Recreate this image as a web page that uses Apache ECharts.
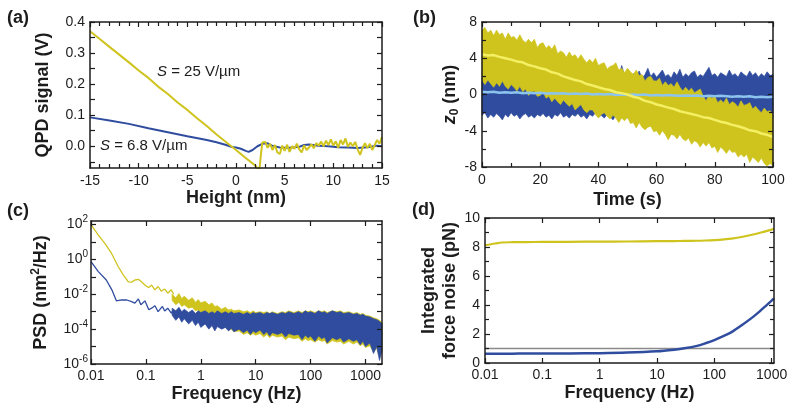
<!DOCTYPE html>
<html>
<head>
<meta charset="utf-8">
<script src="https://cdn.jsdelivr.net/npm/echarts@6/dist/echarts.min.js"></script>
<style>
html, body { margin: 0; padding: 0; background: #fff; }
#chart { width: 800px; height: 415px; }
</style>
</head>
<body>
<div id="chart"></div>
<script>
var FONT = '"Liberation Sans", Arial, Helvetica, sans-serif';
var INK = '#1c1c1c';
var YELLOW = '#cfc41e';
var BLUE = '#2f4c9f';
var YELLOW_LIGHT = '#f4ef63';
var BLUE_LIGHT = '#8cc4ee';

// (a) QPD signal vs height
var heightYellow = [-15, -14, -13, -12, -11, -10, -9, -8, -7, -6, -5, -4, -3, -2, -1, 0, 1, 2, 2.4, 2.55, 2.7,
	3, 3.25, 3.5, 3.75, 4, 4.25, 4.5, 4.75, 5, 5.25, 5.5, 5.75, 6, 6.25, 6.5, 6.75, 7, 7.25, 7.5, 7.75,
	8, 8.25, 8.5, 8.75, 9, 9.25, 9.5, 9.75, 10, 10.25, 10.5, 10.75, 11, 11.25, 11.5, 11.75,
	12, 12.25, 12.5, 12.75, 13, 13.25, 13.5, 13.75, 14, 14.25, 14.5, 14.75, 15];
var qpdYellow = [0.37, 0.345, 0.32, 0.295, 0.27, 0.244, 0.22, 0.192, 0.168, 0.141, 0.117, 0.09, 0.065, 0.038, 0.013, -0.012, -0.038, -0.063, -0.078, -0.03, 0.012,
	0.014, -0.005, 0.008, -0.012, 0.004, -0.02, -0.025, 0.002, -0.015, 0.005, -0.018, 0.0, -0.008, 0.008, -0.01, -0.02, 0.003, -0.012, -0.004, 0.006,
	-0.006, 0.01, 0.002, 0.015, 0.0, 0.018, 0.004, 0.022, 0.002, 0.016, -0.005, 0.02, 0.006, 0.025, -0.002, 0.012,
	0.0, 0.014, -0.01, -0.028, -0.005, 0.01, -0.006, 0.008, -0.012, 0.004, 0.02, 0.008, 0.03];
var heightBlue = [-15, -13, -11, -9, -7, -5, -3, -2, -1, -0.5, 0, 0.5, 1, 1.3, 1.7, 2.2, 2.7, 3.2, 3.7, 4.5, 5.5, 6.5, 7, 7.5, 8.5, 9.5, 10.5, 11.5, 12.5, 13.5, 14.5, 15];
var qpdBlue = [0.093, 0.083, 0.072, 0.058, 0.045, 0.032, 0.02, 0.013, 0.004, -0.002, -0.004, -0.008, -0.015, -0.018, -0.012, 0.0, 0.008, 0.01, 0.002, -0.004, -0.005, -0.002, 0.004, 0.006, 0.002, 0.0, -0.003, -0.004, -0.006, -0.003, 0.002, 0.0];
var qpdTicks = [-0.05, 0, 0.05, 0.1, 0.15, 0.2, 0.25, 0.3, 0.35, 0.4];
var qpdLabels = [0, 0.1, 0.2, 0.3, 0.4];

// (b) z0 traces, drawn as noise bands plus running means
var timeB = [0, 1, 2, 3, 4, 5, 6, 7, 8, 9, 10, 11, 12, 13, 14, 15, 16, 17, 18, 19, 20,
	21, 22, 23, 24, 25, 26, 27, 28, 29, 30, 31, 32, 33, 34, 35, 36, 37, 38, 39, 40,
	41, 42, 43, 44, 45, 46, 47, 48, 49, 50, 51, 52, 53, 54, 55, 56, 57, 58, 59, 60,
	61, 62, 63, 64, 65, 66, 67, 68, 69, 70, 71, 72, 73, 74, 75, 76, 77, 78, 79, 80,
	81, 82, 83, 84, 85, 86, 87, 88, 89, 90, 91, 92, 93, 94, 95, 96, 97, 98, 99, 100];
var yellowTop = [7.1, 7.4, 6.8, 7.1, 6.5, 7.1, 6.6, 6.8, 6.1, 6.8, 6.3,
	6.4, 6.0, 6.6, 6.0, 5.7, 6.1, 5.7, 6.1, 5.2, 5.6,
	5.7, 5.1, 5.4, 5.0, 5.5, 4.5, 4.8, 4.6, 4.1, 4.7,
	4.2, 4.4, 3.9, 4.4, 3.9, 3.5, 3.9, 3.5, 4.0, 3.2,
	3.4, 3.5, 2.8, 3.1, 3.2, 3.5, 2.7, 2.9, 2.4, 2.9,
	2.5, 2.2, 2.7, 2.1, 2.2, 1.5, 1.9, 2.0, 1.5, 1.5,
	1.8, 1.0, 1.4, 1.0, 1.2, 0.8, 1.4, 0.8, 0.4, 0.8,
	0.4, 0.7, 0.2, 0.4, 0.6, -0.2, -0.7, -0.1, -0.4, -0.2,
	-0.9, -0.6, -0.9, -0.4, -1.1, -0.8, -1.0, -1.4, -0.7, -1.2,
	-1.1, -0.9, -1.6, -1.3, -1.7, -2.0, -1.5, -1.9, -1.8, -2.2];
var yellowBottom = [1.6, 1.1, 1.6, 1.2, 0.8, 1.3, 0.9, 1.5, 0.9, 0.6, 1.1,
	0.8, 0.4, 0.9, 0.3, 0.6, -0.1, 0.3, 0.4, -0.2, -0.1,
	0.3, -0.4, -0.2, -0.8, -0.4, -0.8, -1.1, -0.6, -1.0, -1.3,
	-1.0, -1.7, -1.4, -1.1, -1.7, -2.0, -1.7, -1.7, -2.2, -2.6,
	-2.2, -2.0, -2.4, -2.7, -2.3, -2.6, -3.1, -2.6, -2.9, -2.5,
	-3.2, -3.1, -3.7, -3.1, -3.6, -3.9, -3.6, -3.5, -4.1, -4.0,
	-4.5, -4.0, -4.4, -5.0, -4.4, -4.5, -4.9, -4.4, -4.9, -5.1,
	-4.8, -5.5, -5.1, -5.3, -5.8, -5.3, -5.7, -5.3, -5.9, -5.7,
	-6.4, -5.8, -6.1, -6.5, -6.0, -6.4, -6.3, -6.9, -6.6, -6.9,
	-6.6, -7.5, -6.9, -7.2, -7.5, -7.0, -7.6, -7.9, -7.6, -7.9];
var blueTop = [1.9, 2.3, 1.6, 2.0, 1.7, 2.2, 1.5, 1.9, 2.4, 1.6, 1.8,
	2.1, 1.5, 1.9, 1.7, 2.2, 1.6, 1.8, 1.4, 2.0, 1.7,
	1.5, 1.9, 1.6, 1.8, 1.4, 1.7, 2.0, 1.5, 1.8, 1.6,
	1.9, 1.5, 1.7, 2.1, 1.6, 1.8, 1.5, 2.0, 1.7, 1.9,
	1.6, 2.2, 1.8, 2.0, 1.7, 2.4, 1.9, 3.2, 2.1, 2.5,
	1.9, 2.3, 2.0, 2.6, 1.8, 2.2, 2.9, 2.0, 2.4, 1.9,
	2.3, 2.7, 2.0, 2.2, 1.8, 2.5, 2.1, 2.8, 1.9, 2.3,
	2.0, 2.4, 2.6, 1.9, 2.2, 2.0, 2.5, 3.0, 2.1, 2.3,
	1.9, 2.4, 2.2, 2.0, 2.7, 2.1, 2.3, 1.9, 2.5, 2.2,
	2.0, 2.6, 2.1, 2.4, 1.9, 2.3, 2.0, 2.5, 2.1, 2.2];
var blueBottom = [-2.3, -2.0, -2.6, -2.2, -2.5, -2.1, -2.4, -2.8, -2.2, -2.5, -2.0,
	-2.4, -2.2, -2.7, -2.3, -2.1, -2.5, -2.3, -2.6, -2.2, -2.4,
	-2.1, -2.5, -2.3, -2.7, -2.2, -2.4, -2.0, -2.5, -2.3, -2.6,
	-2.2, -2.4, -2.1, -2.5, -2.3, -2.7, -2.2, -2.4, -2.0, -2.5,
	-2.3, -2.6, -2.2, -2.4, -2.8, -2.3, -2.5, -2.1, -2.4, -2.6,
	-2.2, -2.5, -2.3, -2.7, -2.4, -2.2, -2.6, -2.3, -2.5, -2.4,
	-2.2, -2.6, -2.4, -2.3, -2.7, -2.5, -2.3, -2.6, -2.4, -2.5,
	-2.3, -2.7, -2.4, -2.6, -2.5, -2.3, -2.8, -2.5, -2.6, -2.4,
	-2.6, -2.5, -2.7, -2.4, -2.6, -2.8, -2.5, -2.7, -2.6, -2.8,
	-2.5, -2.7, -2.6, -2.9, -2.7, -2.6, -2.8, -2.7, -2.9, -2.6];
var timeMean = [0, 2, 4, 6, 8, 10, 12, 14, 16, 18, 20, 22, 24, 26, 28, 30, 32, 34, 36, 38, 40, 42, 44, 46, 48, 50,
	52, 54, 56, 58, 60, 62, 64, 66, 68, 70, 72, 74, 76, 78, 80, 82, 84, 86, 88, 90, 92, 94, 96, 98, 100];
var yellowMean = [4.45, 4.3, 4.35, 4.15, 4.0, 3.85, 3.65, 3.55, 3.25, 3.1, 2.9, 2.75, 2.45, 2.3, 2.0, 1.8, 1.6, 1.45, 1.15, 1.0,
	0.8, 0.6, 0.5, 0.25, 0.15, 0.0, -0.25, -0.4, -0.7, -0.85, -1.1, -1.25, -1.45, -1.6, -1.85, -2.0, -2.15, -2.3, -2.5, -2.6,
	-2.8, -3.0, -3.15, -3.35, -3.5, -3.7, -3.95, -4.05, -4.3, -4.45, -4.7];
var blueMean = [0.3, 0.25, 0.3, 0.2, 0.25, 0.2, 0.25, 0.15, 0.2, 0.15, 0.2, 0.1, 0.15, 0.1, 0.15, 0.05, 0.1, 0.05, 0.1, 0.0,
	0.05, 0.0, 0.05, -0.05, 0.0, -0.05, 0.0, -0.05, 0.0, -0.1, -0.05, -0.1, -0.05, -0.1, -0.15, -0.1, -0.15, -0.1, -0.2, -0.15,
	-0.2, -0.15, -0.2, -0.25, -0.2, -0.25, -0.2, -0.3, -0.25, -0.3, -0.25];

// (c) PSD: low-frequency lines, then noise bands above ~0.3 Hz
var freqYellowLow = [0.01, 0.0136, 0.018, 0.0237, 0.0314, 0.0387, 0.048, 0.055, 0.063, 0.073, 0.083, 0.098, 0.113, 0.127, 0.146, 0.167, 0.19, 0.22, 0.25, 0.29, 0.32];
var psdYellowLow = [100, 25, 8, 2.2, 0.38, 0.13, 0.052, 0.05, 0.066, 0.072, 0.052, 0.032, 0.024, 0.034, 0.018, 0.028, 0.015, 0.02, 0.0115, 0.018, 0.01];
var freqBlueLow = [0.01, 0.0136, 0.019, 0.024, 0.029, 0.036, 0.045, 0.055, 0.063, 0.073, 0.081, 0.096, 0.113, 0.127, 0.146, 0.167, 0.2, 0.22, 0.25, 0.29, 0.32];
var psdBlueLow = [0.74, 0.2, 0.066, 0.018, 0.0042, 0.0048, 0.0047, 0.0038, 0.0031, 0.0054, 0.0025, 0.0042, 0.0013, 0.0016, 0.0022, 0.001, 0.002, 0.0011, 0.0016, 0.00083, 0.0013];
var bandFreq = [0.3, 0.35, 0.4, 0.45, 0.5, 0.6, 0.7, 0.8, 0.9, 1, 1.2, 1.4, 1.6, 1.8, 2, 2.4, 2.8, 3.2, 3.6,
	4, 5, 6, 7, 8, 9, 10, 12, 14, 16, 18, 20, 25, 30, 35, 40, 50, 60, 70, 80, 90,
	100, 120, 140, 160, 180, 200, 250, 300, 350, 400, 500, 600, 700, 800, 900, 1000, 1200, 1400, 1600, 1800, 2000];
var psdYellowTop = [1.0e-2, 6.3e-3, 1.12e-2, 5.6e-3, 7.9e-3, 4.5e-3, 6.3e-3, 3.5e-3, 5.0e-3, 3.2e-3, 4.0e-3, 2.5e-3, 3.2e-3, 2.0e-3,
	2.2e-3, 1.4e-3, 1.8e-3, 1.26e-3, 1.4e-3, 1.12e-3, 1.26e-3, 1.0e-3, 1.12e-3, 8.9e-4, 1.12e-3,
	8.9e-4, 1.0e-3, 8.9e-4, 1.0e-3, 7.9e-4, 1.0e-3, 7.9e-4, 1.0e-3, 8.9e-4, 1.12e-3,
	8.9e-4, 1.12e-3, 8.9e-4, 1.12e-3, 1.0e-3, 1.12e-3, 8.9e-4, 1.12e-3, 1.0e-3, 1.12e-3,
	8.9e-4, 1.12e-3, 1.0e-3, 1.12e-3, 8.9e-4, 1.0e-3, 7.9e-4, 8.9e-4, 7.1e-4, 7.9e-4,
	6.3e-4, 5.6e-4, 4.5e-4, 4.0e-4, 3.2e-4, 2.5e-4];
var psdYellowBottom = [4.5e-3, 2.5e-3, 3.5e-3, 2.0e-3, 2.5e-3, 1.6e-3, 1.8e-3, 1.12e-3, 1.26e-3, 7.9e-4, 7.1e-4, 4.5e-4, 4.0e-4, 2.5e-4,
	2.0e-4, 1.4e-4, 1.26e-4, 8.9e-5, 1.0e-4, 7.1e-5, 7.9e-5, 5.0e-5, 6.3e-5, 4.5e-5, 5.6e-5,
	4.5e-5, 5.6e-5, 3.5e-5, 5.0e-5, 3.2e-5, 4.5e-5, 3.5e-5, 4.0e-5, 2.5e-5, 3.5e-5,
	2.8e-5, 3.2e-5, 2.0e-5, 2.8e-5, 2.2e-5, 2.5e-5, 1.8e-5, 2.5e-5, 2.0e-5, 2.2e-5,
	1.4e-5, 2.2e-5, 1.8e-5, 2.0e-5, 1.4e-5, 2.0e-5, 1.4e-5, 1.8e-5, 1.12e-5, 1.4e-5,
	8.9e-6, 1.12e-5, 5.0e-6, 7.9e-6, 2.5e-6, 5.0e-6];
var psdBlueTop = [1.6e-3, 1.12e-3, 1.8e-3, 1.0e-3, 1.4e-3, 8.9e-4, 1.26e-3, 7.9e-4, 1.12e-3, 8.9e-4, 1.12e-3, 7.9e-4, 1.0e-3, 7.9e-4,
	1.12e-3, 7.9e-4, 1.0e-3, 7.9e-4, 1.0e-3, 7.9e-4, 8.9e-4, 7.1e-4, 8.9e-4, 7.1e-4, 8.9e-4,
	7.9e-4, 8.9e-4, 7.1e-4, 8.9e-4, 7.9e-4, 8.9e-4, 7.1e-4, 8.9e-4, 7.9e-4, 1.0e-3,
	7.9e-4, 1.0e-3, 7.9e-4, 1.12e-3, 8.9e-4, 1.0e-3, 7.9e-4, 1.12e-3, 8.9e-4, 1.0e-3,
	7.9e-4, 1.12e-3, 8.9e-4, 1.0e-3, 7.9e-4, 8.9e-4, 7.1e-4, 7.9e-4, 6.3e-4, 7.1e-4,
	5.6e-4, 5.0e-4, 4.0e-4, 3.5e-4, 2.8e-4, 2.0e-4];
var psdBlueBottom = [6.3e-4, 3.2e-4, 5.0e-4, 2.5e-4, 4.0e-4, 2.0e-4, 3.2e-4, 1.6e-4, 2.5e-4, 1.26e-4, 2.0e-4, 1.0e-4, 1.6e-4, 7.9e-5,
	1.4e-4, 1.0e-4, 1.26e-4, 7.9e-5, 1.12e-4, 7.1e-5, 1.0e-4, 6.3e-5, 8.9e-5, 5.0e-5, 7.9e-5,
	6.3e-5, 8.9e-5, 5.0e-5, 7.1e-5, 4.0e-5, 6.3e-5, 5.0e-5, 6.3e-5, 3.5e-5, 5.6e-5,
	4.5e-5, 5.0e-5, 2.5e-5, 4.5e-5, 3.2e-5, 4.0e-5, 2.0e-5, 4.0e-5, 2.8e-5, 3.5e-5,
	1.6e-5, 3.2e-5, 2.5e-5, 3.2e-5, 1.8e-5, 2.8e-5, 2.0e-5, 2.5e-5, 1.26e-5, 2.0e-5,
	1.0e-5, 1.6e-5, 4.0e-6, 1.0e-5, 1.6e-6, 6.3e-6];
var freqDecades = [0.01, 0.1, 1, 10, 100, 1000];
var psdTicks = [1e-6, 1e-5, 1e-4, 1e-3, 1e-2, 1e-1, 1, 10, 100];
var psdLabels = [1e-6, 1e-4, 1e-2, 1, 100];

// (d) integrated force noise
var freqD = [0.01, 0.015, 0.02, 0.03, 0.05, 0.1, 0.3, 1, 3, 10, 20, 30, 50, 70, 100, 150, 200, 300, 500, 700, 1000, 1100];
var forceYellow = [8.12, 8.24, 8.31, 8.33, 8.34, 8.35, 8.36, 8.37, 8.38, 8.40, 8.41, 8.42, 8.43, 8.45, 8.48, 8.53, 8.58, 8.69, 8.88, 9.03, 9.2, 9.26];
var forceBlue = [0.64, 0.64, 0.64, 0.645, 0.65, 0.65, 0.66, 0.68, 0.72, 0.81, 0.92, 1.01, 1.18, 1.36, 1.58, 1.88, 2.13, 2.6, 3.25, 3.75, 4.3, 4.45];
var forceLevelFreq = [0.01, 1100];
var forceLevel = [1, 1];

function pairs(xs, ys) {
	return xs.map(function (x, i) { return [x, ys[i]]; });
}

function freqLabel(v) {
	return String(Number(v.toPrecision(2)));
}

function powLabel(v) {
	var e = Math.round(Math.log(v) / Math.LN10);
	return '{b|10}{e|' + e + '}';
}

var titleStyle = { fontFamily: FONT, fontWeight: 'bold', fontSize: 18, color: INK };

function buildAxis(gridIndex, position, spec, withLabels) {
	var axis = {
		type: spec.type || 'value',
		gridIndex: gridIndex,
		position: position,
		min: spec.min,
		max: spec.max,
		axisLine: { show: true, onZero: false, lineStyle: { color: INK, width: 1.5 } },
		axisTick: { show: true, inside: true, length: 5, lineStyle: { color: INK, width: 1.2 } },
		axisLabel: { show: withLabels, color: INK, fontFamily: FONT, fontSize: 14, margin: spec.labelMargin || 5 },
		splitLine: { show: false },
		z: 5
	};
	if (spec.type === 'log') {
		axis.logBase = 10;
	}
	if (spec.interval) {
		axis.interval = spec.interval;
	}
	if (spec.minorSplit) {
		axis.minorTick = { show: true, splitNumber: spec.minorSplit, length: 4, lineStyle: { color: INK, width: 1.2 } };
	}
	if (spec.ticks) {
		axis.axisTick.customValues = spec.ticks;
	}
	if (spec.labels) {
		axis.axisLabel.customValues = spec.labels;
	}
	if (spec.formatter) {
		axis.axisLabel.formatter = spec.formatter;
	}
	if (spec.rich) {
		axis.axisLabel.rich = spec.rich;
	}
	if (withLabels && spec.name) {
		axis.name = spec.name;
		axis.nameLocation = 'middle';
		axis.nameGap = spec.nameGap;
		axis.nameTextStyle = spec.nameStyle || titleStyle;
	}
	return axis;
}

var powRich = {
	b: { fontFamily: FONT, fontSize: 14, color: INK, lineHeight: 20 },
	e: { fontFamily: FONT, fontSize: 10, color: INK, lineHeight: 10, verticalAlign: 'top' }
};

var xSpecs = [
	{ min: -15, max: 15, interval: 5, minorSplit: 5, name: 'Height (nm)', nameGap: 15, labelMargin: 6 },
	{ min: 0, max: 100, interval: 20, minorSplit: 2, name: 'Time (s)', nameGap: 24, labelMargin: 6 },
	{ type: 'log', min: 0.01, max: 2000, ticks: freqDecades, labels: freqDecades, formatter: freqLabel, name: 'Frequency (Hz)', nameGap: 21, labelMargin: 5 },
	{ type: 'log', min: 0.01, max: 1100, ticks: freqDecades, labels: freqDecades, formatter: freqLabel, name: 'Frequency (Hz)', nameGap: 21, labelMargin: 5 }
];

var ySpecs = [
	{ min: -0.07, max: 0.4, ticks: qpdTicks, labels: qpdLabels, formatter: function (v) { return v.toFixed(1); }, name: 'QPD signal (V)', nameGap: 38, labelMargin: 5 },
	{ min: -8, max: 8, interval: 4, minorSplit: 2, name: '{z|z}{s|0} (nm)', nameGap: 16, labelMargin: 5,
		nameStyle: { fontFamily: FONT, fontWeight: 'bold', fontSize: 18, color: INK, lineHeight: 22,
			rich: {
				z: { fontFamily: FONT, fontWeight: 'bold', fontStyle: 'italic', fontSize: 18, color: INK, lineHeight: 22 },
				s: { fontFamily: FONT, fontWeight: 'bold', fontSize: 12, color: INK, lineHeight: 12, verticalAlign: 'bottom' }
			} } },
	{ type: 'log', min: 1e-6, max: 160, ticks: psdTicks, labels: psdLabels, formatter: powLabel, rich: powRich, name: 'PSD (nm{s|2}/Hz)', nameGap: 39, labelMargin: 3,
		nameStyle: { fontFamily: FONT, fontWeight: 'bold', fontSize: 18, color: INK, lineHeight: 22,
			rich: {
				s: { fontFamily: FONT, fontWeight: 'bold', fontSize: 12, color: INK, lineHeight: 12, verticalAlign: 'top' }
			} } },
	{ min: 0, max: 10, interval: 2, minorSplit: 2, name: 'Integrated\nforce noise (pN)', nameGap: 23, labelMargin: 5,
		nameStyle: { fontFamily: FONT, fontWeight: 'bold', fontSize: 18, color: INK, lineHeight: 21 } }
];

var grids = [
	{ left: 90, top: 22, width: 292, height: 146 },
	{ left: 482, top: 22, width: 291, height: 145 },
	{ left: 91, top: 221, width: 291, height: 143 },
	{ left: 485, top: 218, width: 289, height: 145 }
];

var xAxes = [];
var yAxes = [];
grids.forEach(function (g, i) {
	g.outerBoundsMode = 'none';
	xAxes.push(buildAxis(i, 'bottom', xSpecs[i], true));
	xAxes.push(buildAxis(i, 'top', xSpecs[i], false));
	yAxes.push(buildAxis(i, 'left', ySpecs[i], true));
	yAxes.push(buildAxis(i, 'right', ySpecs[i], false));
});

function line(gridIndex, xs, ys, color, width, extra) {
	var s = {
		type: 'line',
		xAxisIndex: gridIndex * 2,
		yAxisIndex: gridIndex * 2,
		data: pairs(xs, ys),
		symbol: 'none',
		lineStyle: { color: color, width: width },
		silent: true
	};
	for (var k in extra || {}) {
		s[k] = extra[k];
	}
	return s;
}

// filled noise band between a lower and an upper edge, placed through the axes
function band(gridIndex, xs, lower, upper, color) {
	return {
		type: 'custom',
		xAxisIndex: gridIndex * 2,
		yAxisIndex: gridIndex * 2,
		silent: true,
		data: xs.map(function (x, i) { return [x, lower[i], upper[i]]; }),
		encode: { x: 0, y: [1, 2] },
		renderItem: function (params, api) {
			if (params.dataIndex !== 0) {
				return null;
			}
			var pts = [];
			var i;
			for (i = 0; i < xs.length; i++) {
				pts.push(api.coord([xs[i], upper[i]]));
			}
			for (i = xs.length - 1; i >= 0; i--) {
				pts.push(api.coord([xs[i], lower[i]]));
			}
			return {
				type: 'polygon',
				shape: { points: pts },
				style: { fill: color, stroke: color, lineWidth: 0.7 }
			};
		}
	};
}

var series = [];
// (a)
series.push(line(0, heightBlue, qpdBlue, BLUE, 2));
series.push(line(0, heightYellow, qpdYellow, YELLOW, 2));
// (b)
series.push(band(1, timeB, blueBottom, blueTop, BLUE));
series.push(band(1, timeB, yellowBottom, yellowTop, YELLOW));
series.push(line(1, timeMean, blueMean, BLUE_LIGHT, 2.5));
series.push(line(1, timeMean, yellowMean, YELLOW_LIGHT, 2.5));
// (c)
series.push(line(2, freqYellowLow, psdYellowLow, YELLOW, 1.3));
series.push(band(2, bandFreq, psdYellowBottom, psdYellowTop, YELLOW));
series.push(line(2, freqBlueLow, psdBlueLow, BLUE, 1.3));
series.push(band(2, bandFreq, psdBlueBottom, psdBlueTop, BLUE));
// (d)
series.push(line(3, forceLevelFreq, forceLevel, '#8a8a8a', 1.5));
series.push(line(3, freqD, forceYellow, YELLOW, 2.2, { smooth: 0.3 }));
series.push(line(3, freqD, forceBlue, BLUE, 2.5, { smooth: 0.3 }));

function panelLabel(text, left, top) {
	return { type: 'text', left: left, top: top, style: { text: text, font: 'bold 18px ' + FONT, fill: INK } };
}

function slopeNote(value, left, top) {
	return {
		type: 'text', left: left, top: top,
		style: {
			text: '{i|S} = ' + value + ' V/\u00b5m',
			font: '15px ' + FONT,
			fill: INK,
			rich: { i: { fontStyle: 'italic', fontSize: 15, fontFamily: FONT, fill: INK } }
		}
	};
}

var chart = echarts.init(document.getElementById('chart'));
chart.setOption({
	backgroundColor: '#fff',
	animation: false,
	grid: grids,
	xAxis: xAxes,
	yAxis: yAxes,
	series: series,
	graphic: [
		panelLabel('(a)', 7, 9),
		panelLabel('(b)', 413, 9),
		panelLabel('(c)', 7, 202),
		panelLabel('(d)', 412, 201),
		slopeNote('25', 157, 64),
		slopeNote('6.8', 100, 138)
	]
});
</script>
</body>
</html>
